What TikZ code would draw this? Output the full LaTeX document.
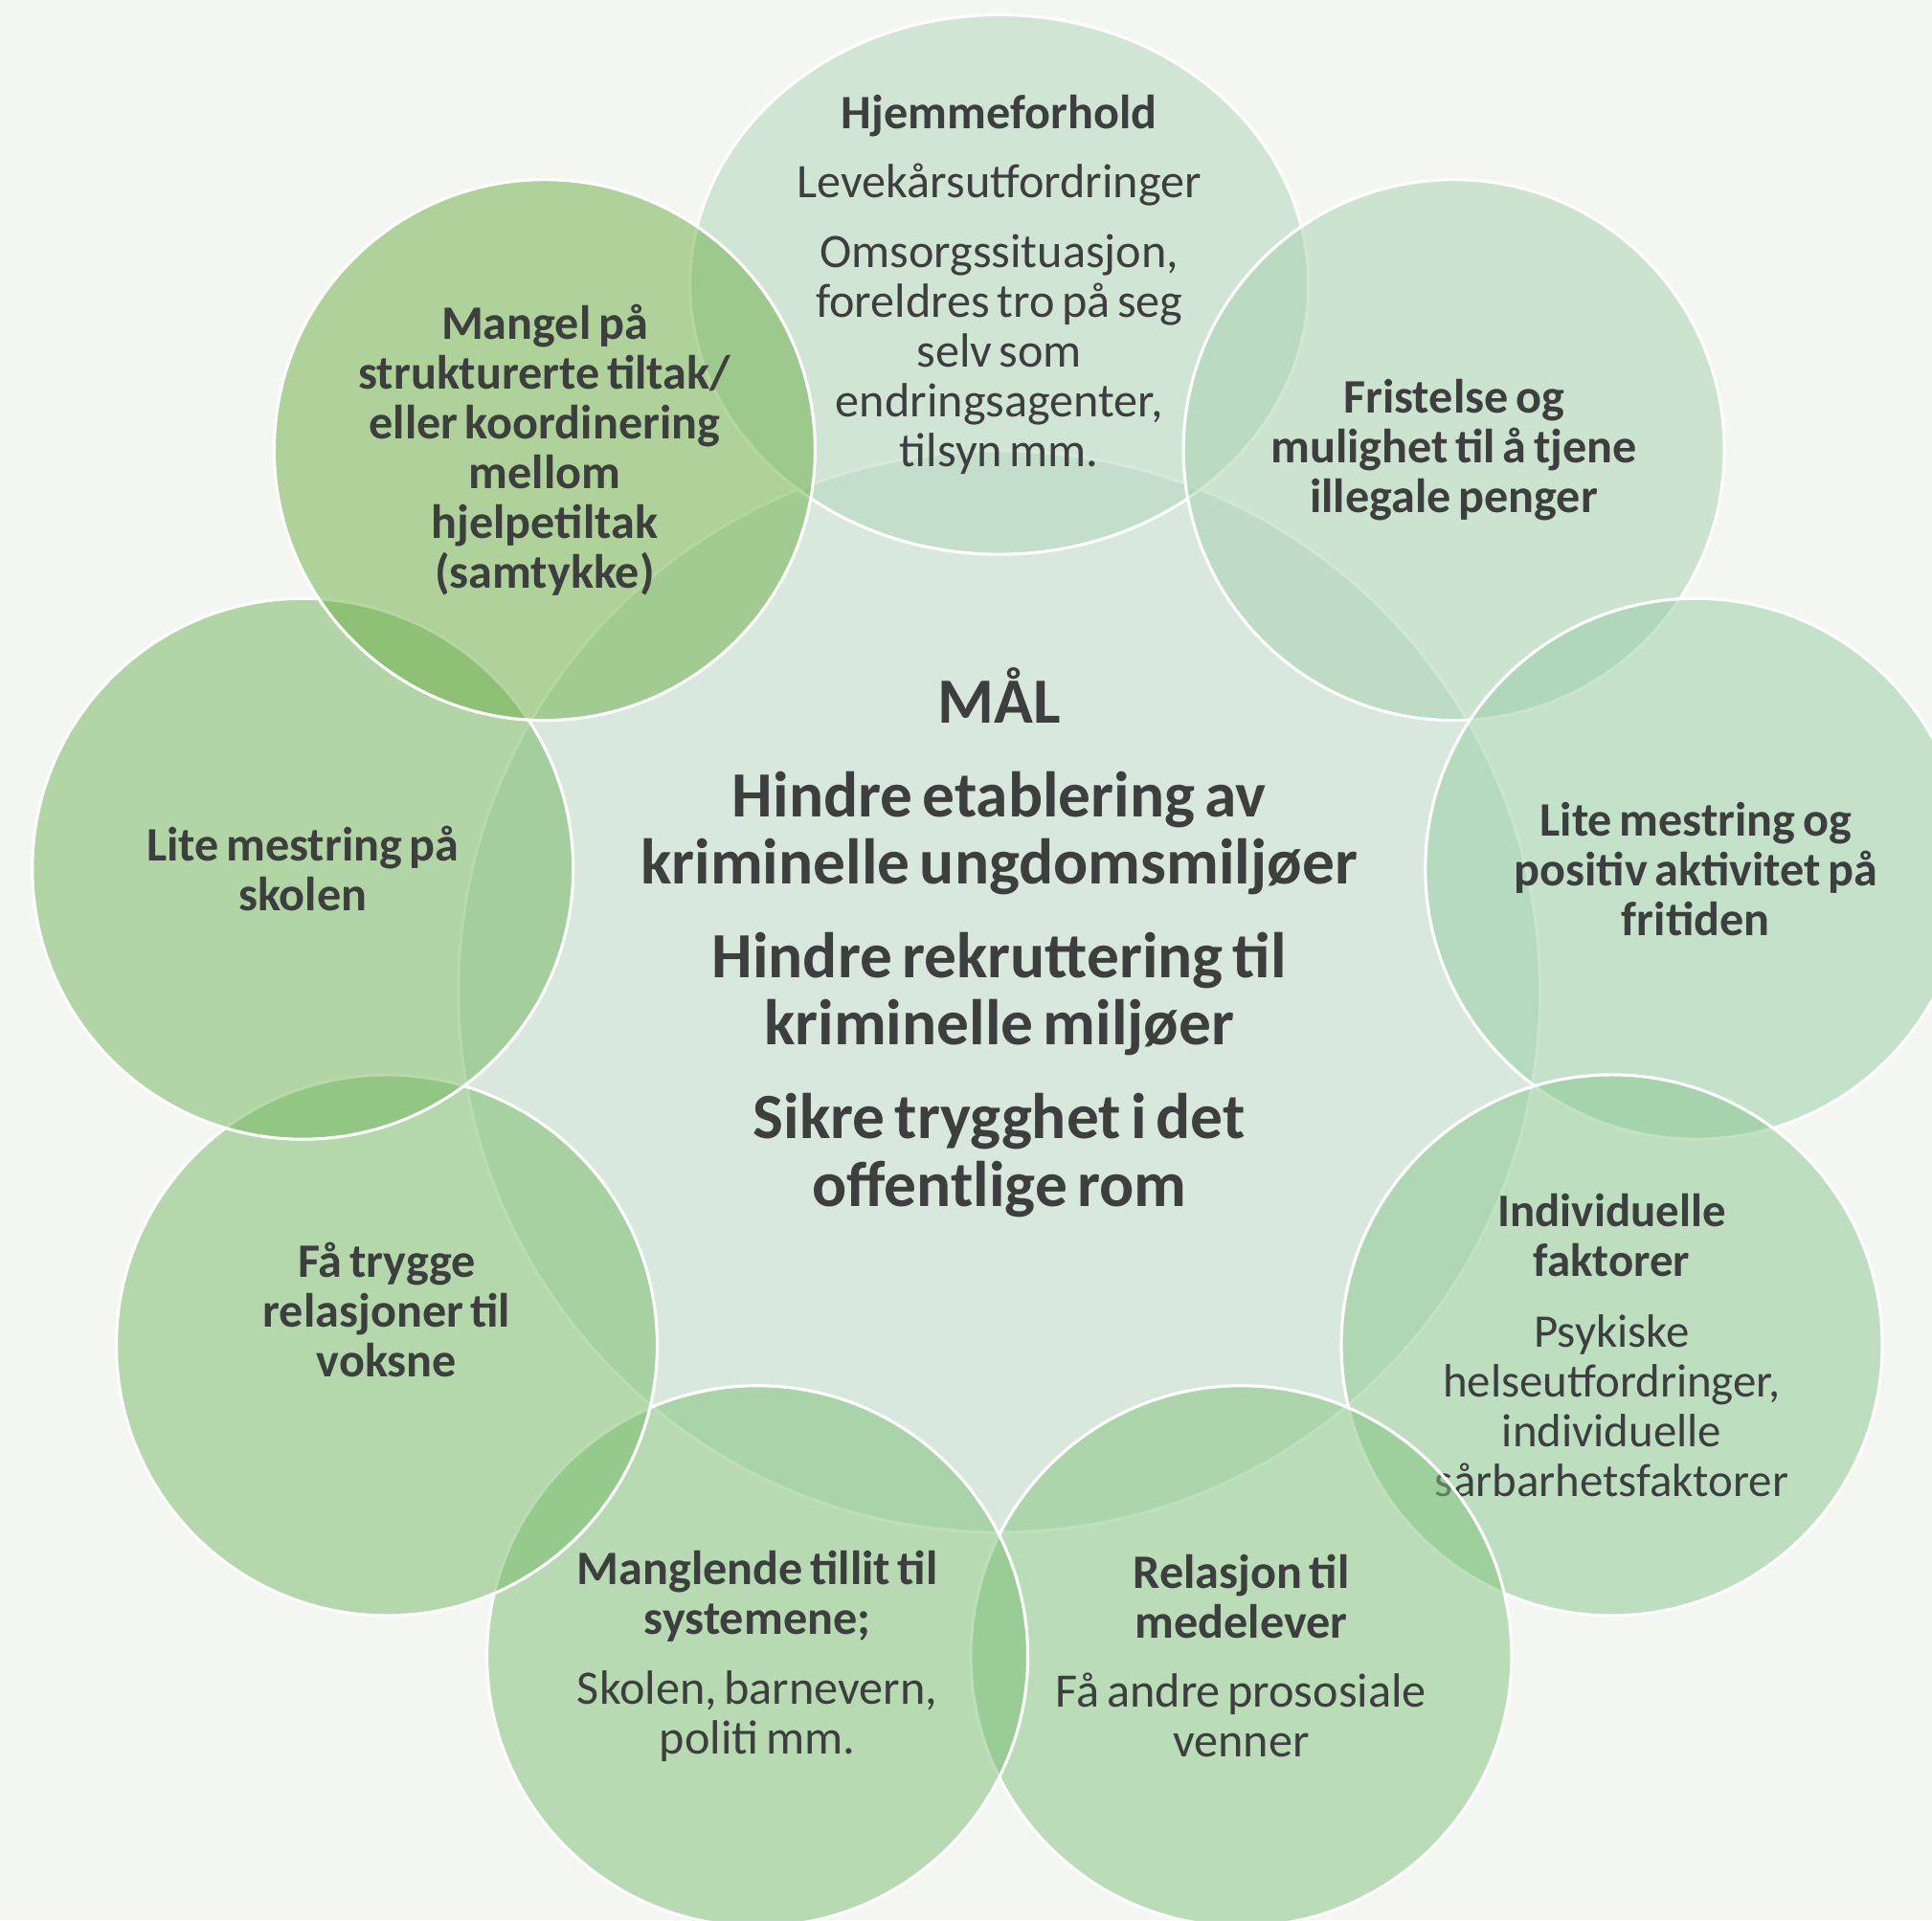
\documentclass[tikz,border=0pt]{standalone}
\usepackage{fontspec}
\setmainfont{Carlito}
\usetikzlibrary{shapes.geometric}
\definecolor{bgcol}{HTML}{F4F6F2}
\definecolor{txtcol}{HTML}{3C3F3D}
\definecolor{maalcol}{RGB}{191,219,201}
\definecolor{hjemcol}{RGB}{175,213,185}
\definecolor{fristcol}{RGB}{165,209,175}
\definecolor{fritidcol}{RGB}{149,205,163}
\definecolor{individcol}{RGB}{135,199,141}
\definecolor{relasjoncol}{RGB}{129,195,125}
\definecolor{tillitcol}{RGB}{123,191,117}
\definecolor{voksnecol}{RGB}{117,187,103}
\definecolor{skolecol}{RGB}{113,181,91}
\definecolor{tiltakcol}{RGB}{107,175,69}
\tikzset{
  venn/.style={draw=white, line width=0.7pt, fill opacity=0.5, inner sep=0pt},
  bubble/.style={venn, circle, minimum size=4.39cm},
  lbl/.style={text=txtcol, align=center, text width=4.2cm, inner sep=0pt,
    font=\fontsize{11.1}{11.5}\selectfont, execute at begin node={\spaceskip=0.15em\relax}},
  head/.style={lbl, font=\fontsize{11.1}{11.5}\selectfont\bfseries}
}
\begin{document}
\begin{tikzpicture}
  % Frame
  \useasboundingbox (-8.11,-7.54) rectangle (7.57,8.05);
  \clip (-8.11,-7.54) rectangle (7.57,8.05);
  \fill[bgcol] (-8.11,-7.54) rectangle (7.57,8.05);
  % Centre
  \node[venn, circle, minimum size=8.78cm, fill=maalcol] (maal) at (0,0) {};
  \node[head, text width=7.5cm, font=\fontsize{14.9}{15.6}\selectfont\bfseries] (maaltxt) at (0,0.40)
    {MÅL\\[6pt] Hindre etablering av\\ kriminelle ungdomsmiljøer\\[6pt]
     Hindre rekruttering til\\ kriminelle miljøer\\[6pt] Sikre trygghet i det\\ offentlige rom};
  % Outer circles, clockwise from the top
  \node[venn, ellipse, minimum width=5.02cm, minimum height=4.38cm, fill=hjemcol] (hjem) at (90:5.74) {};
  \node[lbl] (hjemtxt) at (hjem)
    {\textbf{Hjemmeforhold}\\[4.5pt] Levekårsutfordringer\\[4.5pt] Omsorgssituasjon,\\
     foreldres tro på seg\\ selv som\\ endringsagenter,\\ tilsyn mm.};
  \node[bubble, fill=fristcol] (frist) at (50:5.74) {};
  \node[head] (fristtxt) at (frist) {Fristelse og\\ mulighet til å tjene\\ illegale penger};
  \node[bubble, fill=fritidcol] (fritid) at (10:5.74) {};
  \node[head] (fritidtxt) at (fritid) {Lite mestring og\\ positiv aktivitet på\\ fritiden};
  \node[bubble, fill=individcol] (individ) at (-30:5.74) {};
  \node[lbl, font=\fontsize{10.8}{11.5}\selectfont] (individtxt) at (individ)
    {\textbf{Individuelle\\ faktorer}\\[5pt] Psykiske\\ helseutfordringer,\\ individuelle\\ sårbarhetsfaktorer};
  \node[bubble, fill=relasjoncol] (relasjon) at (-70:5.74) {};
  \node[lbl] (relasjontxt) at (relasjon)
    {\textbf{Relasjon til\\ medelever}\\[4.5pt] Få andre prososiale\\ venner};
  \node[bubble, fill=tillitcol] (tillit) at (-110:5.74) {};
  \node[lbl] (tillittxt) at (tillit)
    {\textbf{Manglende tillit til\\ systemene;}\\[4.5pt] Skolen, barnevern,\\ politi mm.};
  \node[bubble, fill=voksnecol] (voksne) at (-150:5.74) {};
  \node[head] (voksnetxt) at ([yshift=0.29cm]voksne) {Få trygge\\ relasjoner til\\ voksne};
  \node[bubble, fill=skolecol] (skole) at (170:5.74) {};
  \node[head] (skoletxt) at (skole) {Lite mestring på\\ skolen};
  \node[bubble, fill=tiltakcol] (tiltak) at (130:5.74) {};
  \node[head] (tiltaktxt) at (tiltak)
    {Mangel på\\ strukturerte tiltak/\\ eller koordinering\\ mellom\\ hjelpetiltak\\ (samtykke)};
\end{tikzpicture}
\end{document}
